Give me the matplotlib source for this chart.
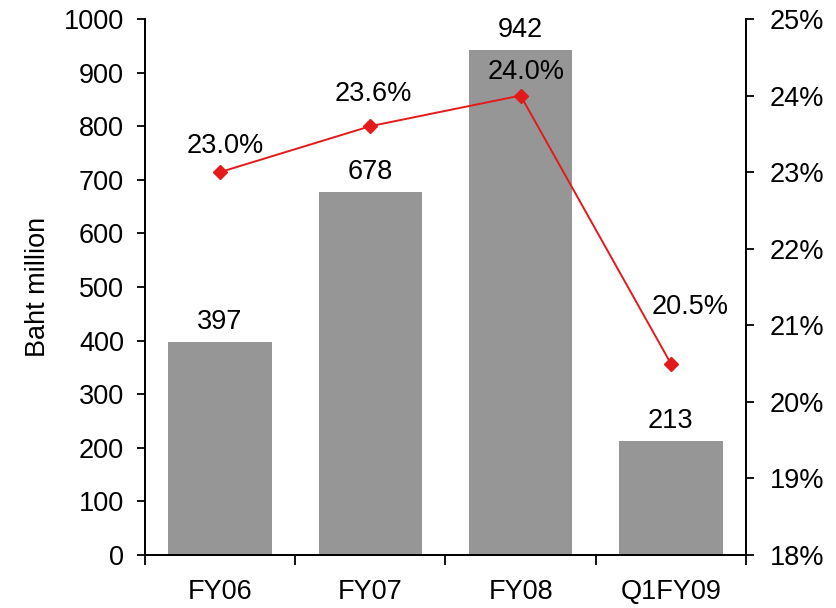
import matplotlib.pyplot as plt
import numpy as np

plt.rcParams['font.family'] = ['Liberation Sans', 'DejaVu Sans']

# data
periods = ['FY06', 'FY07', 'FY08', 'Q1FY09']
revenue = [397, 678, 942, 213]          # Baht million
margin = [23.0, 23.6, 24.0, 20.5]       # %

# label offsets (points) for margin labels
margin_offsets = [(4, 19), (2, 23), (4, 17), (14, 41)]

FS = 19.5

fig = plt.figure(figsize=(8.36, 6.08), dpi=100)
ax = fig.add_axes([0.1734, 0.0872, 0.7189, 0.8816])
ax2 = ax.twinx()

x = np.arange(len(periods))
ax.bar(x, revenue, width=0.69, color='#969696', zorder=2)
for xi, v in zip(x, revenue):
    ax.annotate(str(v), (xi, v), xytext=(0, 5), textcoords='offset points',
                ha='center', va='bottom', fontsize=FS)

ax.set_xlim(-0.5, len(periods) - 0.5)
ax.set_ylim(0, 1000)
ax.set_yticks(np.arange(0, 1001, 100))
ax.set_ylabel('Baht million', fontsize=FS, labelpad=9)

ax.set_xticks(x)
ax.set_xticklabels(periods)
ax.set_xticks(np.arange(-0.5, len(periods), 1), minor=True)
ax.tick_params(axis='x', which='major', length=0, pad=17, labelsize=FS)
ax.tick_params(axis='x', which='minor', length=7, width=1.3, direction='out')
ax.tick_params(axis='y', length=6, width=1.3, labelsize=FS, pad=9)

for a in (ax, ax2):
    a.spines['top'].set_visible(False)
    for s in ('left', 'right', 'bottom'):
        a.spines[s].set_linewidth(1.3)

# margin line on the right axis
ax2.plot(x, margin, color='#E31A1C', lw=1.4, marker='D', ms=7, zorder=3)
for xi, m, off in zip(x, margin, margin_offsets):
    ax2.annotate(f'{m:.1f}%', (xi, m), xytext=off, textcoords='offset points',
                 ha='center', va='center', fontsize=FS)
ax2.set_ylim(18, 25)
ax2.set_yticks(np.arange(18, 26, 1))
ax2.set_yticklabels([f'{t}%' for t in range(18, 26)])
ax2.tick_params(axis='y', length=6, width=1.3, labelsize=FS, pad=11)

fig.savefig('out.png', dpi=100)
